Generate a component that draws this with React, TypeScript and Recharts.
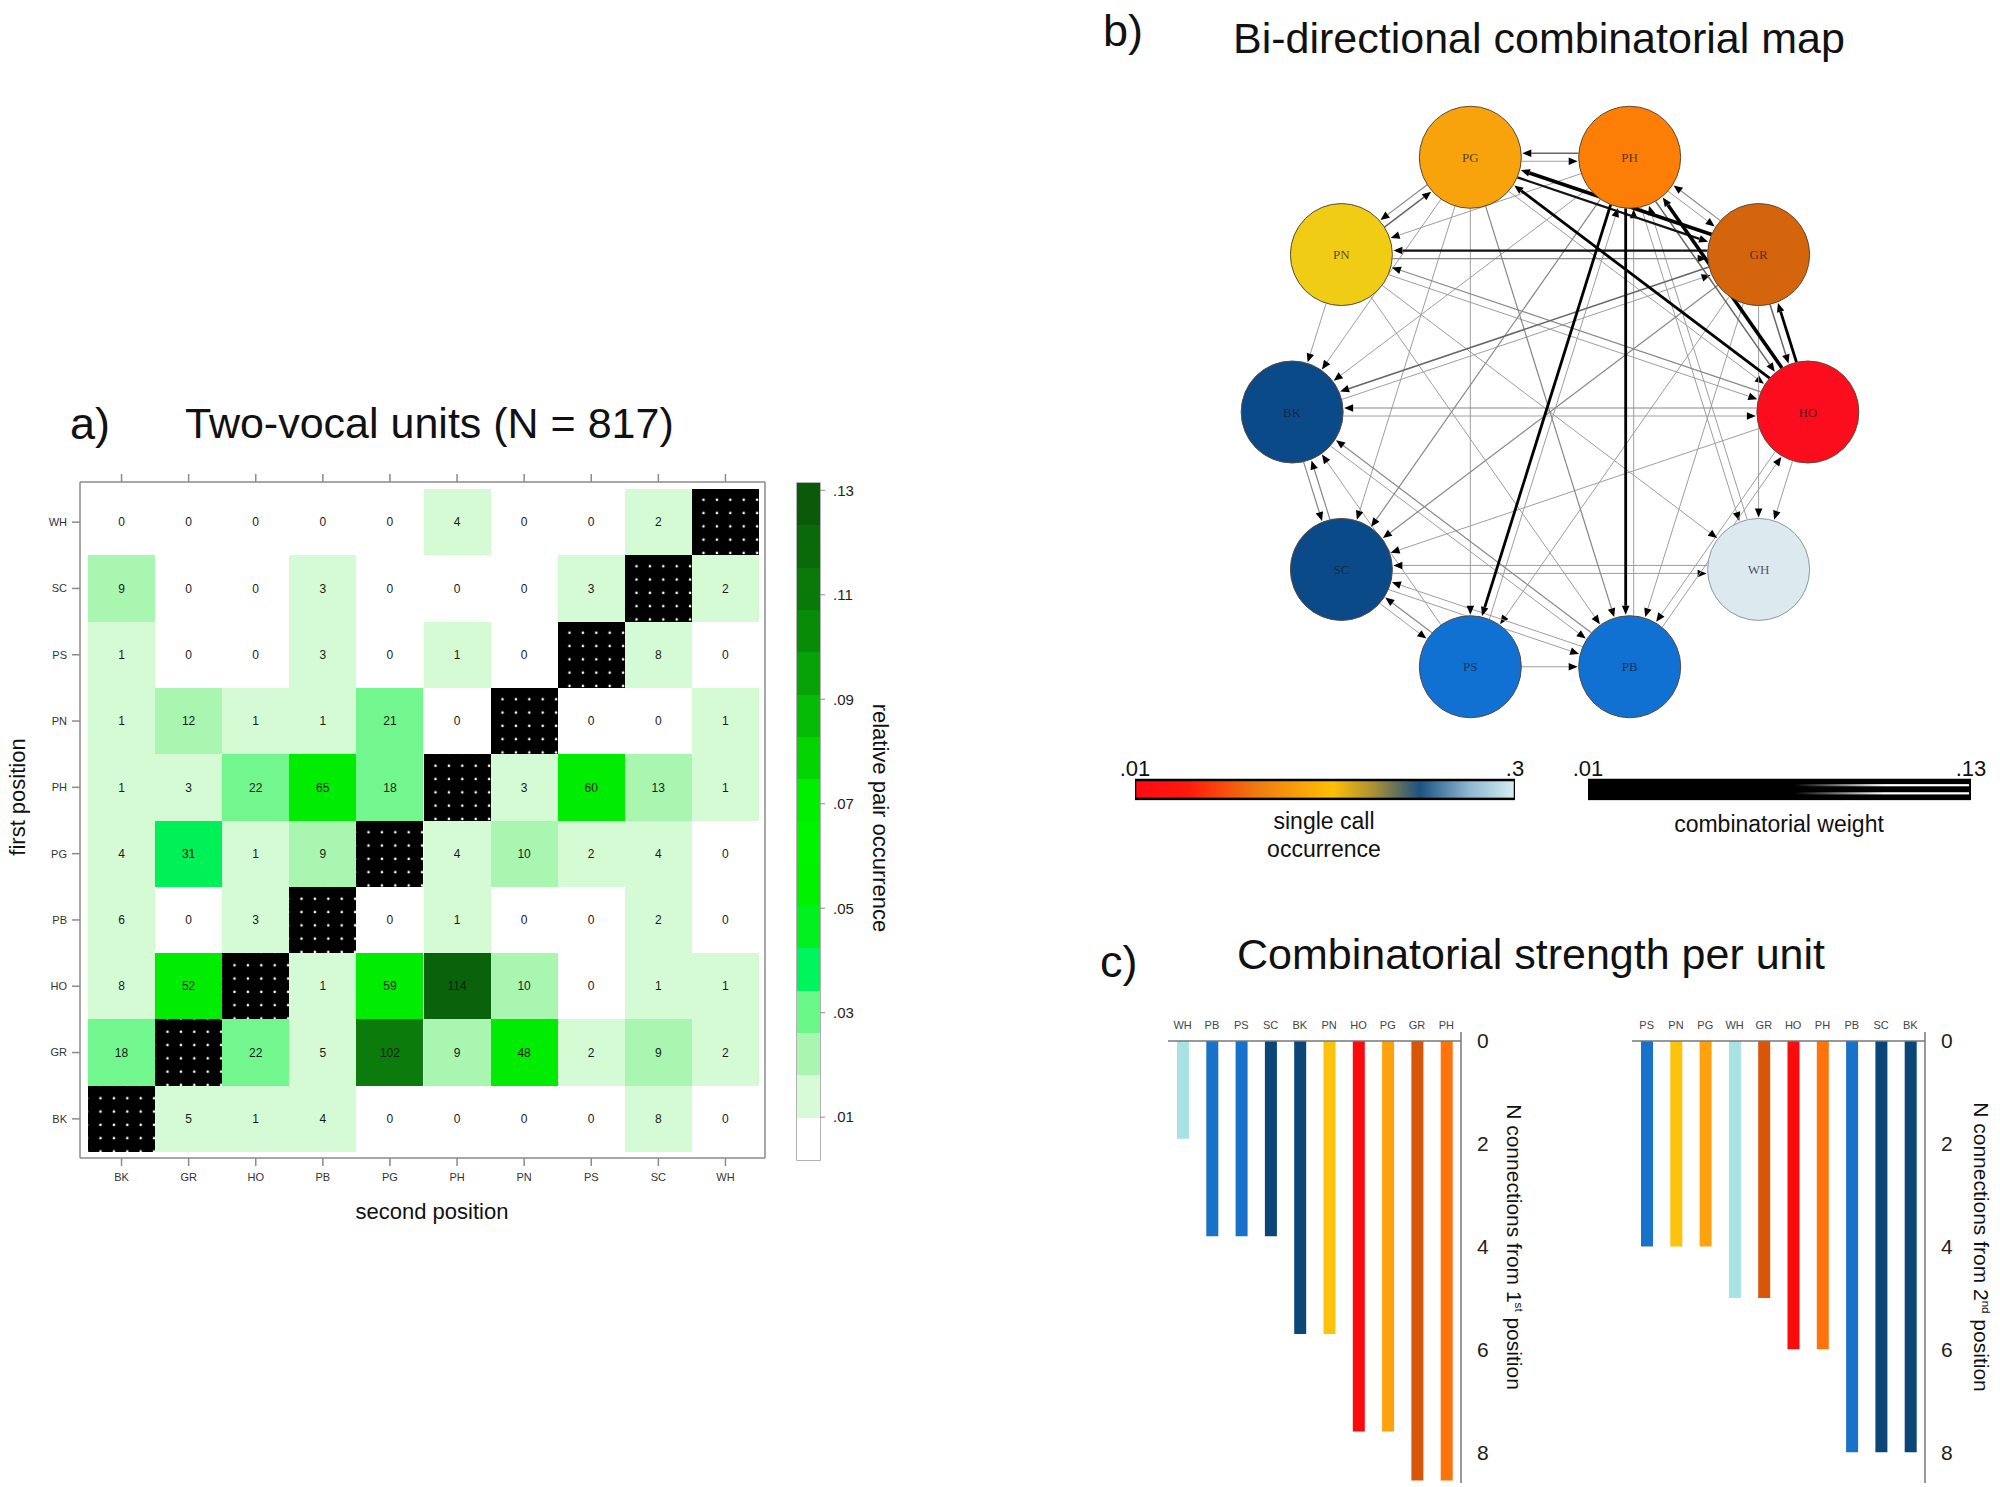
import React from "react";
import {
  Bar,
  BarChart,
  Cell,
  ReferenceArea,
  ReferenceLine,
  Scatter,
  ScatterChart,
  XAxis,
  YAxis,
} from "recharts";

const FONT = "'Liberation Sans', Arial, Helvetica, sans-serif";
const SERIF = "'Liberation Serif', 'DejaVu Serif', serif";

// call types, in the heatmap's order
const UNITS = ["BK", "GR", "HO", "PB", "PG", "PH", "PN", "PS", "SC", "WH"];

// two-vocal sequences: one row per first-position unit, columns = second position (UNITS order)
const FIRST_BK = [null, 5, 1, 4, 0, 0, 0, 0, 8, 0];
const FIRST_GR = [18, null, 22, 5, 102, 9, 48, 2, 9, 2];
const FIRST_HO = [8, 52, null, 1, 59, 114, 10, 0, 1, 1];
const FIRST_PB = [6, 0, 3, null, 0, 1, 0, 0, 2, 0];
const FIRST_PG = [4, 31, 1, 9, null, 4, 10, 2, 4, 0];
const FIRST_PH = [1, 3, 22, 65, 18, null, 3, 60, 13, 1];
const FIRST_PN = [1, 12, 1, 1, 21, 0, null, 0, 0, 1];
const FIRST_PS = [1, 0, 0, 3, 0, 1, 0, null, 8, 0];
const FIRST_SC = [9, 0, 0, 3, 0, 0, 0, 3, null, 2];
const FIRST_WH = [0, 0, 0, 0, 0, 4, 0, 0, 2, null];
const PAIR_ROWS = [FIRST_BK, FIRST_GR, FIRST_HO, FIRST_PB, FIRST_PG, FIRST_PH, FIRST_PN, FIRST_PS, FIRST_SC, FIRST_WH];

// relative pair occurrence colour scale (bottom band first)
const SCALE_TICKS = [0.01, 0.03, 0.05, 0.07, 0.09, 0.11, 0.13];
const SCALE_BANDS = [0.0099, 0.0081, 0.0081, 0.0081, 0.0081, 0.0081, 0.0081, 0.0081, 0.0081, 0.0081, 0.0081, 0.0081, 0.0081, 0.0081, 0.0081, 0.0081];
const SCALE_COLORS = ["#ffffff", "#d6fbd6", "#a9f6b0", "#6af889", "#00f45c", "#00f020", "#00f200", "#00f400", "#00ee00", "#03d503", "#05bb05", "#07a207", "#088c08", "#097a09", "#0a6a0a", "#0a5a0a"];

// network ring, clockwise from the top
const RING_ORDER = ["PH", "GR", "HO", "WH", "PB", "PS", "SC", "BK", "PN", "PG"];
const NODE_COLORS: Record<string, string> = {
  BK: "#0b4a88", GR: "#d4650c", HO: "#fb0d1d", PB: "#1171d2", PG: "#f9a30c",
  PH: "#fd7e06", PN: "#f0cc14", PS: "#1171d2", SC: "#0b4a88", WH: "#dce9ee",
};

// legend ranges
const OCCURRENCE_RANGE = [0.01, 0.3];
const WEIGHT_RANGE = [0.01, 0.13];

// combinatorial strength per unit
const FIRST_ORDER = ["WH", "PB", "PS", "SC", "BK", "PN", "HO", "PG", "GR", "PH"];
const FIRST_CONN = [1.9, 3.8, 3.8, 3.8, 5.7, 5.7, 7.6, 7.6, 8.55, 8.55];
const SECOND_ORDER = ["PS", "PN", "PG", "WH", "GR", "HO", "PH", "PB", "SC", "BK"];
const SECOND_CONN = [4, 4, 4, 5, 5, 6, 6, 8, 8, 8];
const CONN_TICKS = [0, 2, 4, 6, 8];
const BAR_COLORS: Record<string, string> = {
  WH: "#a9e2e3", PB: "#1872c9", PS: "#1872c9", SC: "#0b4677", BK: "#0b4677",
  PN: "#fdc30c", HO: "#fb0b0b", PG: "#fda20c", GR: "#d8560a", PH: "#fe730c",
};

const AXIS = "#8a8a8a";
const NODE_R = 51;

const fmtDec = (v: number) => String(v).replace(/^0/, "");

const heatColor = (n: number) =>
  n === 0 ? "#ffffff" : n <= 8 ? "#d5fbd5" : n <= 16 ? "#a8f6b0" : n <= 27 ? "#72f68e"
    : n <= 40 ? "#00f058" : n <= 80 ? "#00ec00" : n <= 108 ? "#0b7c0b" : "#0a620a";

const edgeStyle = (n: number) =>
  n > 80 ? { stroke: "#000", w: 3.6 } : n > 50 ? { stroke: "#000", w: 2.8 }
    : n > 30 ? { stroke: "#111", w: 2.2 } : n > 15 ? { stroke: "#666", w: 1.5 }
    : n > 5 ? { stroke: "#888", w: 1.2 } : { stroke: "#9e9e9e", w: 1 };

function Txt({ x, y, size, anchor = "start", rotate = 0, children }: any) {
  const tx = anchor === "middle" ? "-50%" : anchor === "end" ? "-100%" : "0";
  return (
    <div
      style={{
        position: "absolute", left: x, top: y, fontSize: size, lineHeight: 1,
        whiteSpace: "nowrap", color: "#111",
        transform: `translate(${tx}, -50%) rotate(${rotate}deg)`,
      }}
    >
      {children}
    </div>
  );
}

// ---------- a) heatmap ----------
const heatData = UNITS.map((col, c) => {
  const d: any = { col };
  PAIR_ROWS.forEach((row, r) => {
    d[`u${r}`] = 1;
    d[`n${r}`] = row[c];
  });
  return d;
});
const rowTicks = UNITS.map((_, i) => i + 0.5);

const heatShape = (r: number) => (p: any) => {
  const v = p.payload[`n${r}`];
  return (
    <g>
      <rect x={p.x} y={p.y} width={p.width} height={p.height} shapeRendering="crispEdges"
        fill={v === null ? "url(#diagDots)" : heatColor(v)} />
      {v !== null && (
        <text x={p.x + p.width / 2} y={p.y + p.height / 2} dy="0.35em" textAnchor="middle"
          fontSize={12} fill="#1a1a1a">{v}</text>
      )}
    </g>
  );
};

function HeatMap() {
  const tick = { fontSize: 11, fill: "#333" };
  return (
    <BarChart width={790} height={760} data={heatData} barCategoryGap={0} barGap={0}
      margin={{ top: 22, right: 5, bottom: 2, left: 40 }}>
      <defs>
        <pattern id="diagDots" width={13.4} height={13.3} patternUnits="userSpaceOnUse">
          <rect width={13.4} height={13.3} fill="#000" />
          <circle cx={6.7} cy={6.6} r={1.3} fill="#fff" />
        </pattern>
      </defs>
      <XAxis xAxisId="b" dataKey="col" orientation="bottom" height={40} interval={0}
        padding={{ left: 8, right: 6 }} tickSize={8} tickMargin={7}
        stroke={AXIS} strokeWidth={1.5} tick={tick} />
      <XAxis xAxisId="t" dataKey="col" orientation="top" height={20} interval={0}
        padding={{ left: 8, right: 6 }} tickSize={8} tickFormatter={() => ""}
        stroke={AXIS} strokeWidth={1.5} />
      <YAxis yAxisId="l" type="number" domain={[0, 10]} ticks={rowTicks} interval={0}
        tickFormatter={(v: number) => UNITS[Math.floor(v)]} width={40}
        padding={{ top: 7, bottom: 6 }} tickSize={8} tickMargin={5}
        stroke={AXIS} strokeWidth={1.5} tick={tick} />
      <YAxis yAxisId="r" orientation="right" type="number" domain={[0, 10]} ticks={rowTicks}
        interval={0} tickFormatter={() => ""} width={20} padding={{ top: 7, bottom: 6 }}
        tickSize={8} stroke={AXIS} strokeWidth={1.5} />
      {PAIR_ROWS.map((_, r) => (
        <Bar key={r} xAxisId="b" yAxisId="l" dataKey={`u${r}`} stackId="cells"
          isAnimationActive={false} shape={heatShape(r)} />
      ))}
    </BarChart>
  );
}

function HeatScale() {
  const d: any = { k: "scale" };
  SCALE_BANDS.forEach((b, i) => (d[`b${i}`] = b));
  return (
    <BarChart width={140} height={700} data={[d]} barCategoryGap={0}
      margin={{ top: 13, right: 0, bottom: 10, left: 7 }}>
      <XAxis dataKey="k" hide />
      <YAxis orientation="right" type="number" domain={[0.0018, 0.1314]} allowDataOverflow
        ticks={SCALE_TICKS} interval={0} tickFormatter={fmtDec} width={110}
        axisLine={false} tickSize={5} tickMargin={8} stroke={AXIS}
        tick={{ fontSize: 15, fill: "#222" }} />
      {SCALE_BANDS.map((_, i) => (
        <Bar key={i} dataKey={`b${i}`} stackId="s" fill={SCALE_COLORS[i]}
          isAnimationActive={false} shapeRendering="crispEdges" />
      ))}
      <ReferenceArea y1={0.0018} y2={0.1314} fill="none" stroke="#999" strokeWidth={1.5}
        ifOverflow="visible" />
    </BarChart>
  );
}

// ---------- b) network ----------
const nodeData = RING_ORDER.map((unit, i) => {
  const a = ((18 + 36 * i) * Math.PI) / 180;
  return { unit, x: Math.sin(a), y: Math.cos(a) };
});
const nodeAt: Record<string, { x: number; y: number }> = {};
nodeData.forEach((n) => (nodeAt[n.unit] = n));

type Edge = { from: string; to: string; n: number; both: boolean };
const edges: Edge[] = [];
PAIR_ROWS.forEach((row, r) =>
  row.forEach((n, c) => {
    if (n) edges.push({ from: UNITS[r], to: UNITS[c], n, both: !!PAIR_ROWS[c][r] });
  })
);
edges.sort((a, b) => a.n - b.n);

const edgeShape = (e: Edge) => (p: any) => {
  const { x1, y1, x2, y2 } = p;
  const dx = x2 - x1;
  const dy = y2 - y1;
  const len = Math.hypot(dx, dy) || 1;
  const ux = dx / len;
  const uy = dy / len;
  const off = e.both ? 4 : 0;
  const nx = -uy * off;
  const ny = ux * off;
  const sx = x1 + ux * NODE_R + nx;
  const sy = y1 + uy * NODE_R + ny;
  const tx = x2 - ux * (NODE_R + 1) + nx;
  const ty = y2 - uy * (NODE_R + 1) + ny;
  const bx = tx - ux * 9;
  const by = ty - uy * 9;
  const st = edgeStyle(e.n);
  return (
    <g>
      <line x1={sx} y1={sy} x2={bx} y2={by} stroke={st.stroke} strokeWidth={st.w} />
      <polygon
        points={`${tx},${ty} ${bx - uy * 3.8},${by + ux * 3.8} ${bx + uy * 3.8},${by - ux * 3.8}`}
        fill="#000" />
    </g>
  );
};

const nodeShape = (p: any) => {
  const u = p.payload.unit;
  return (
    <g>
      <circle cx={p.cx} cy={p.cy} r={NODE_R} fill={NODE_COLORS[u]}
        stroke={u === "WH" ? "#8a9aa0" : "#5a4a3a"} strokeWidth={1} />
      <text x={p.cx} y={p.cy} dy="0.35em" textAnchor="middle" fontFamily={SERIF}
        fontSize={13} fill="#1a1a2a" fillOpacity={0.75}>{u}</text>
    </g>
  );
};

function Network() {
  return (
    <ScatterChart width={722} height={750} margin={{ top: 0, right: 0, bottom: 0, left: 0 }}>
      <XAxis type="number" dataKey="x" domain={[-1.4, 1.4]} hide />
      <YAxis type="number" dataKey="y" domain={[-1.4, 1.4]} hide />
      {edges.map((e, i) => (
        <ReferenceLine key={i} ifOverflow="visible" shape={edgeShape(e)}
          segment={[{ x: nodeAt[e.from].x, y: nodeAt[e.from].y }, { x: nodeAt[e.to].x, y: nodeAt[e.to].y }]} />
      ))}
      <Scatter data={nodeData} isAnimationActive={false} shape={nodeShape} />
    </ScatterChart>
  );
}

function OccurrenceLegend() {
  return (
    <BarChart layout="vertical" width={450} height={70} data={[{ k: "occ", v: OCCURRENCE_RANGE[1] }]}
      margin={{ top: 0, right: 25, bottom: 10, left: 45 }}>
      <defs>
        <linearGradient id="occGrad" x1="0" y1="0" x2="1" y2="0">
          <stop offset="0" stopColor="#ff0a14" />
          <stop offset="0.14" stopColor="#ff1a0c" />
          <stop offset="0.32" stopColor="#f07a10" />
          <stop offset="0.52" stopColor="#ffbf05" />
          <stop offset="0.63" stopColor="#a89036" />
          <stop offset="0.75" stopColor="#1d5282" />
          <stop offset="0.88" stopColor="#8db8d0" />
          <stop offset="1" stopColor="#d6eef2" />
        </linearGradient>
      </defs>
      <XAxis type="number" orientation="top" domain={OCCURRENCE_RANGE} ticks={OCCURRENCE_RANGE}
        allowDataOverflow height={39} axisLine={false} tickLine={false} tickSize={0} tickMargin={3}
        interval={0} tickFormatter={fmtDec} tick={{ fontSize: 22, fill: "#111" }} />
      <YAxis type="category" dataKey="k" hide />
      <Bar dataKey="v" barSize={21} isAnimationActive={false}
        shape={(p: any) => (
          <rect x={p.x} y={p.y} width={p.width} height={p.height} fill="url(#occGrad)"
            stroke="#000" strokeWidth={2.5} />
        )} />
    </BarChart>
  );
}

function WeightLegend() {
  return (
    <BarChart layout="vertical" width={448} height={70} data={[{ k: "w", v: WEIGHT_RANGE[1] }]}
      margin={{ top: 0, right: 25, bottom: 10, left: 40 }}>
      <defs>
        <linearGradient id="wStripe" x1="0" y1="0" x2="1" y2="0">
          <stop offset="0" stopColor="#fff" stopOpacity={0} />
          <stop offset="0.54" stopColor="#fff" stopOpacity={0} />
          <stop offset="0.78" stopColor="#fff" stopOpacity={1} />
          <stop offset="1" stopColor="#fff" stopOpacity={1} />
        </linearGradient>
      </defs>
      <XAxis type="number" orientation="top" domain={WEIGHT_RANGE} ticks={WEIGHT_RANGE}
        allowDataOverflow height={39} axisLine={false} tickLine={false} tickSize={0} tickMargin={3}
        interval={0} tickFormatter={fmtDec} tick={{ fontSize: 22, fill: "#111" }} />
      <YAxis type="category" dataKey="k" hide />
      <Bar dataKey="v" barSize={21} isAnimationActive={false}
        shape={(p: any) => (
          <g>
            <rect x={p.x} y={p.y} width={p.width} height={p.height} fill="#000" stroke="#000" strokeWidth={2.5} />
            <rect x={p.x} y={p.y + p.height * 0.27 - 1} width={p.width - 2} height={2.2} fill="url(#wStripe)" />
            <rect x={p.x} y={p.y + p.height * 0.7 - 1} width={p.width - 2} height={2.2} fill="url(#wStripe)" />
          </g>
        )} />
    </BarChart>
  );
}

// ---------- c) connections ----------
function Connections({ order, values }: { order: string[]; values: number[] }) {
  const data = order.map((unit, i) => ({ unit, n: values[i] }));
  return (
    <BarChart width={338} height={487} data={data} margin={{ top: 0, right: 5, bottom: 4, left: 0 }}>
      <XAxis dataKey="unit" orientation="top" height={32} interval={0} axisLine={false}
        tickLine={false} tickSize={0} tickMargin={3} tick={{ fontSize: 11, fill: "#444" }} />
      <YAxis orientation="right" type="number" domain={[0, 8.6]} reversed ticks={CONN_TICKS}
        interval={0} width={40} padding={{ top: 9, bottom: 0 }} tickLine={false} tickSize={0}
        tickMargin={16} stroke="#777" strokeWidth={1.5} tick={{ fontSize: 21, fill: "#222" }} />
      <ReferenceLine y={0} stroke="#777" strokeWidth={1.5} />
      <Bar dataKey="n" barSize={12} isAnimationActive={false}>
        {data.map((d) => (
          <Cell key={d.unit} fill={BAR_COLORS[d.unit]} />
        ))}
      </Bar>
    </BarChart>
  );
}

export default function App() {
  return (
    <div style={{ position: "absolute", left: 0, top: 0, width: 2000, height: 1487, background: "#fff", overflow: "hidden", fontFamily: FONT }}>
      <Txt x={70} y={423} size={45}>a)</Txt>
      <Txt x={185} y={423} size={43}>Two-vocal units (N = 817)</Txt>
      <Txt x={1103} y={30} size={45}>b)</Txt>
      <Txt x={1233} y={38} size={43}>Bi-directional combinatorial map</Txt>
      <Txt x={1100} y={961} size={45}>c)</Txt>
      <Txt x={1237} y={954} size={43}>Combinatorial strength per unit</Txt>

      <div style={{ position: "absolute", left: 0, top: 440 }}><HeatMap /></div>
      <div style={{ position: "absolute", left: 790, top: 470 }}><HeatScale /></div>
      <Txt x={18} y={797} size={22} anchor="middle" rotate={-90}>first position</Txt>
      <Txt x={432} y={1212} size={22} anchor="middle">second position</Txt>
      <Txt x={880} y={818} size={22} anchor="middle" rotate={90}>relative pair occurrence</Txt>

      <div style={{ position: "absolute", left: 1189, top: 37 }}><Network /></div>
      <div style={{ position: "absolute", left: 1090, top: 740 }}><OccurrenceLegend /></div>
      <div style={{ position: "absolute", left: 1548, top: 740 }}><WeightLegend /></div>
      <Txt x={1324} y={821} size={23} anchor="middle">single call</Txt>
      <Txt x={1324} y={849} size={23} anchor="middle">occurrence</Txt>
      <Txt x={1779} y={824} size={23} anchor="middle">combinatorial weight</Txt>

      <div style={{ position: "absolute", left: 1168, top: 1000 }}>
        <Connections order={FIRST_ORDER} values={FIRST_CONN} />
      </div>
      <div style={{ position: "absolute", left: 1632, top: 1000 }}>
        <Connections order={SECOND_ORDER} values={SECOND_CONN} />
      </div>
      <Txt x={1514} y={1247} size={21} anchor="middle" rotate={90}>
        N connections from 1<sup style={{ fontSize: "0.55em" }}>st</sup> position
      </Txt>
      <Txt x={1981} y={1247} size={21} anchor="middle" rotate={90}>
        N connections from 2<sup style={{ fontSize: "0.55em" }}>nd</sup> position
      </Txt>
    </div>
  );
}
